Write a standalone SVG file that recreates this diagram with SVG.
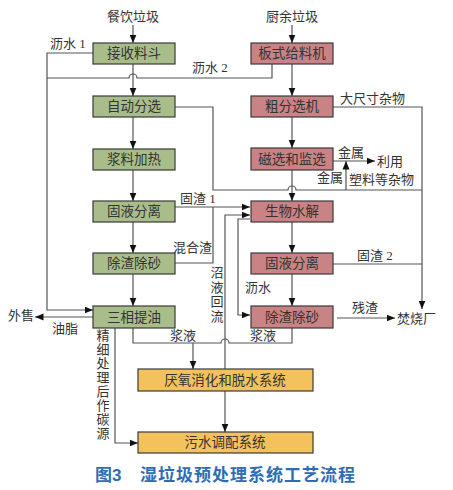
<svg xmlns="http://www.w3.org/2000/svg" width="453" height="490" viewBox="0 0 453 490">
<style>
text{font-family:"Liberation Serif","Noto Sans CJK SC",serif;font-size:13px;fill:#333}
.bt{font-size:13.5px;text-anchor:middle}
.g{fill:#a9bd8b;stroke:#3a3a3a;stroke-width:1.2}
.r{fill:#c98384;stroke:#3a3a3a;stroke-width:1.2}
.y{fill:#f3c25c;stroke:#3a3a3a;stroke-width:1.2}
.c path{fill:none;stroke:#555;stroke-width:1.2}
.a{marker-end:url(#ah)}
.v{text-anchor:middle}
.t{font-family:"Liberation Sans","Noto Sans CJK SC",sans-serif;font-size:17px;font-weight:bold;fill:#2e6db4}
</style>
<defs>
<marker id="ah" markerWidth="9" markerHeight="8" refX="8.5" refY="4" orient="auto" markerUnits="userSpaceOnUse">
<path d="M0,0.5 L8.5,4 L0,7.5 Z" fill="#111"/>
</marker>
</defs>
<rect width="453" height="490" fill="#fff"/>

<g class="c" id="connectors">
<path class="a" d="M133,25 V43"/>
<path class="a" d="M292,25 V43"/>
<path class="a" d="M93,53 H47 V310 H93"/>
<path d="M272,64 V78 H137 A4,4 0 0 0 129,78 H47"/>
<path class="a" d="M133,64 V96"/>
<path class="a" d="M133,117 V149"/>
<path class="a" d="M133,170 V201"/>
<path class="a" d="M133,222 V253"/>
<path class="a" d="M133,274 V306"/>
<path class="a" d="M292,64 V96"/>
<path class="a" d="M292,117 V148"/>
<path class="a" d="M292,170 V201"/>
<path class="a" d="M292,222 V253"/>
<path class="a" d="M292,274 V306"/>
<path d="M175,107 H213 V190 H288 A4,4 0 0 1 296,190 H422"/>
<path class="a" d="M346,190 V161"/>
<path class="a" d="M333,161 H375"/>
<path class="a" d="M333,107 H422 V309"/>
<path d="M333,264 H422"/>
<path class="a" d="M337,318 H395"/>
<path class="a" d="M175,207 H250"/>
<path d="M175,263 H213 V207"/>
<path class="a" d="M225,369 V215 H250"/>
<path class="a" d="M250,219 H238 V315 H250"/>
<path d="M133,328 V343 H221 A4,4 0 0 1 229,343 H292 V328"/>
<path class="a" d="M193,343 V369"/>
<path class="a" d="M225,391 V432"/>
<path class="a" d="M115,328 V443 H138"/>
<path class="a" d="M93,317 H35"/>
</g>

<g id="n1"><rect class="g" x="93" y="43" width="82" height="21"/><text class="bt" x="134" y="58">接收料斗</text></g>
<g id="n2"><rect class="g" x="93" y="96" width="82" height="21"/><text class="bt" x="134" y="111">自动分选</text></g>
<g id="n3"><rect class="g" x="93" y="149" width="82" height="21"/><text class="bt" x="134" y="164">浆料加热</text></g>
<g id="n4"><rect class="g" x="93" y="201" width="82" height="21"/><text class="bt" x="134" y="216">固液分离</text></g>
<g id="n5"><rect class="g" x="93" y="253" width="82" height="21"/><text class="bt" x="134" y="268">除渣除砂</text></g>
<g id="n6"><rect class="g" x="93" y="306" width="82" height="22"/><text class="bt" x="134" y="322">三相提油</text></g>

<g id="m1"><rect class="r" x="251" y="43" width="82" height="21"/><text class="bt" x="292" y="58">板式给料机</text></g>
<g id="m2"><rect class="r" x="251" y="96" width="82" height="21"/><text class="bt" x="292" y="111">粗分选机</text></g>
<g id="m3"><rect class="r" x="251" y="148" width="82" height="22"/><text class="bt" x="292" y="164">磁选和监选</text></g>
<g id="m4"><rect class="r" x="251" y="201" width="82" height="21"/><text class="bt" x="292" y="216">生物水解</text></g>
<g id="m5"><rect class="r" x="251" y="253" width="82" height="21"/><text class="bt" x="292" y="268">固液分离</text></g>
<g id="m6"><rect class="r" x="251" y="306" width="82" height="22"/><text class="bt" x="292" y="322">除渣除砂</text></g>

<g id="y1"><rect class="y" x="138" y="369" width="175" height="22"/><text class="bt" x="225" y="385">厌氧消化和脱水系统</text></g>
<g id="y2"><rect class="y" x="138" y="432" width="175" height="21"/><text class="bt" x="225" y="447">污水调配系统</text></g>

<g id="labels">
<text class="v" x="133" y="21">餐饮垃圾</text>
<text class="v" x="292" y="21">厨余垃圾</text>
<text x="50" y="48">沥水 1</text>
<text x="192" y="72">沥水 2</text>
<text x="340" y="103">大尺寸杂物</text>
<text x="338" y="157">金属</text>
<text x="377" y="166">利用</text>
<text x="317" y="182">金属</text>
<text x="349" y="184">塑料等杂物</text>
<text x="180" y="203">固渣 1</text>
<text x="173" y="252">混合渣</text>
<text class="v" x="217" y="277">沼</text>
<text class="v" x="217" y="292">液</text>
<text class="v" x="217" y="306">回</text>
<text class="v" x="217" y="321">流</text>
<text x="245" y="292">沥水</text>
<text x="357" y="260">固渣 2</text>
<text x="352" y="312">残渣</text>
<text x="397" y="323">焚烧厂</text>
<text x="8" y="320">外售</text>
<text x="52" y="333">油脂</text>
<text x="170" y="340">浆液</text>
<text x="250" y="340">浆液</text>
<text class="v" x="103" y="340">精</text>
<text class="v" x="103" y="354">细</text>
<text class="v" x="103" y="368">处</text>
<text class="v" x="103" y="382">理</text>
<text class="v" x="103" y="396">后</text>
<text class="v" x="103" y="410">作</text>
<text class="v" x="103" y="424">碳</text>
<text class="v" x="103" y="438">源</text>
<text class="t" x="95" y="481">图3</text>
<text class="t" x="140" y="481" textLength="215">湿垃圾预处理系统工艺流程</text>
</g>
</svg>
